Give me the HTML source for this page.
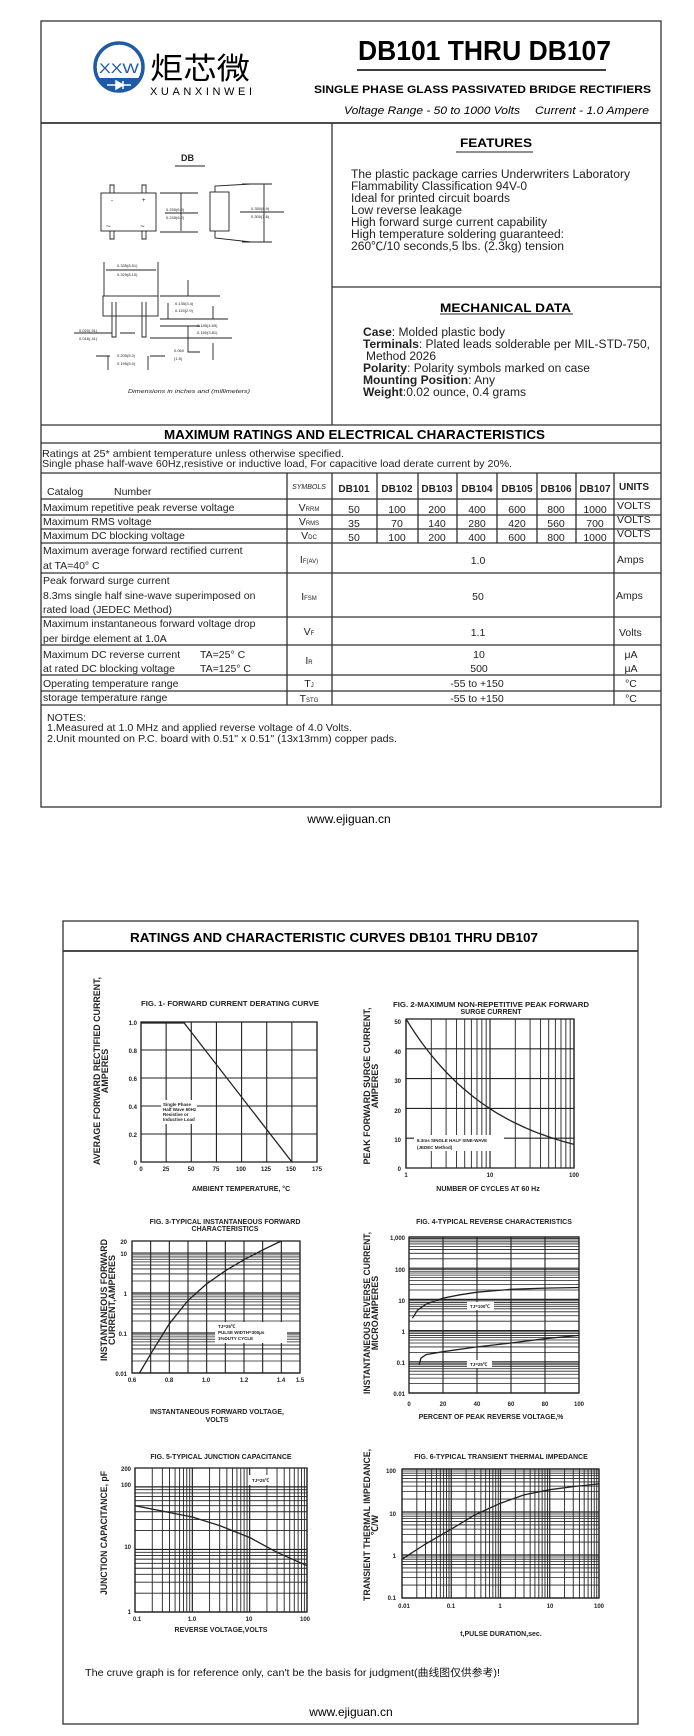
<!DOCTYPE html>
<html><head><meta charset="utf-8"><style>
html,body{margin:0;padding:0;background:#fff;}
svg{display:block;font-family:"Liberation Sans","Noto Sans CJK SC",sans-serif;}
.b{font-weight:bold;}
</style></head><body>
<svg id="s" width="694" height="1736" viewBox="0 0 694 1736" xmlns="http://www.w3.org/2000/svg">
<g fill="none" stroke="#333" stroke-width="1.3">
<rect x="41" y="21" width="620" height="786"/>
<line x1="41" y1="123" x2="661" y2="123" stroke-width="1.8"/>
<line x1="332" y1="123" x2="332" y2="425"/>
<line x1="332" y1="287" x2="661" y2="287"/>
<line x1="41" y1="425" x2="661" y2="425"/>
<line x1="41" y1="443" x2="661" y2="443"/>
<line x1="41" y1="473" x2="661" y2="473"/>
<line x1="41" y1="499" x2="661" y2="499"/>
<line x1="41" y1="515" x2="661" y2="515"/>
<line x1="41" y1="529" x2="661" y2="529"/>
<line x1="41" y1="543" x2="661" y2="543"/>
<line x1="41" y1="573" x2="661" y2="573"/>
<line x1="41" y1="617" x2="661" y2="617"/>
<line x1="41" y1="645" x2="661" y2="645"/>
<line x1="41" y1="675" x2="661" y2="675"/>
<line x1="41" y1="691" x2="661" y2="691"/>
<line x1="41" y1="705" x2="661" y2="705"/>
<line x1="287" y1="473" x2="287" y2="705"/>
<line x1="332" y1="473" x2="332" y2="705"/>
<line x1="614" y1="473" x2="614" y2="705"/>
<line x1="377" y1="473" x2="377" y2="543"/>
<line x1="418" y1="473" x2="418" y2="543"/>
<line x1="457" y1="473" x2="457" y2="543"/>
<line x1="497" y1="473" x2="497" y2="543"/>
<line x1="537" y1="473" x2="537" y2="543"/>
<line x1="576" y1="473" x2="576" y2="543"/>
<rect x="63" y="921" width="575" height="803"/>
<line x1="63" y1="951" x2="638" y2="951" stroke-width="1.8"/>
</g>
<!-- logo -->
<circle cx="119" cy="67" r="24" fill="none" stroke="#1d5aa8" stroke-width="3.5"/>
<path d="M97 78 H141 A24 24 0 0 1 97 78 Z" fill="#1d5aa8"/>
<text x="119" y="73" font-size="14" fill="#1d5aa8" text-anchor="middle" textLength="40" lengthAdjust="spacingAndGlyphs">XXW</text>
<path d="M107 85 H131 M116 81 L123 85 L116 89 Z M123 81 V89" stroke="#fff" stroke-width="1.5" fill="#fff"/>
<text x="150" y="79" font-size="30" font-family="Noto Sans CJK SC,sans-serif" textLength="100" lengthAdjust="spacingAndGlyphs">炬芯微</text>
<text x="150" y="95" font-size="11" textLength="102" lengthAdjust="spacing">XUANXINWEI</text>
<text x="358" y="60" font-size="28" class="b" textLength="253" lengthAdjust="spacingAndGlyphs">DB101 THRU DB107</text>
<line x1="357" y1="70" x2="606" y2="70" stroke="#222" stroke-width="1.8"/>
<text x="314" y="93" font-size="11" class="b" textLength="337" lengthAdjust="spacingAndGlyphs">SINGLE PHASE GLASS PASSIVATED BRIDGE RECTIFIERS</text>
<text x="344" y="114" font-size="11" font-style="italic" textLength="176" lengthAdjust="spacingAndGlyphs">Voltage Range - 50 to 1000 Volts</text>
<text x="535" y="114" font-size="11" font-style="italic" textLength="114" lengthAdjust="spacingAndGlyphs">Current -  1.0 Ampere</text>
<!-- package drawing -->
<g fill="none" stroke="#222" stroke-width="0.9">
<text x="181" y="161" font-size="9" class="b" fill="#222" stroke="none">DB</text>
<line x1="175" y1="166" x2="205" y2="166"/>
<rect x="101" y="193" width="55" height="38"/>
<path d="M110 193 V185 H114 V193 M142 193 V185 H146 V193 M110 231 V239 H114 V231 M142 231 V239 H146 V231"/>
<text x="111" y="202" font-size="6" fill="#222" stroke="none">-</text>
<text x="142" y="202" font-size="6" fill="#222" stroke="none">+</text>
<text x="106" y="229" font-size="8" fill="#222" stroke="none">~</text>
<text x="140" y="229" font-size="8" fill="#222" stroke="none">~</text>
<path d="M160 193 H198 M160 232 H198 M181 193 V231 M165 213 H198"/>
<text x="166" y="211" font-size="4" fill="#222" stroke="none">0.255(6.5)</text>
<text x="166" y="219" font-size="4" fill="#222" stroke="none">0.245(6.2)</text>
<rect x="210" y="192" width="19" height="39"/>
<path d="M215 192 V186 L251 184 M215 231 V238 L251 242 M242 184 H272 M242 242 H272 M264 184 V242 M240 212 H284"/>
<text x="251" y="210" font-size="4" fill="#222" stroke="none">0.350(8.9)</text>
<text x="251" y="218" font-size="4" fill="#222" stroke="none">0.300(7.6)</text>
<path d="M104 262 V296 M158 262 V296 M106 270 H156"/>
<text x="117" y="267" font-size="4" fill="#222" stroke="none">0.335(8.51)</text>
<text x="117" y="276" font-size="4" fill="#222" stroke="none">0.325(8.10)</text>
<rect x="103" y="296" width="55" height="20"/>
<path d="M112 302 V337 H116 V302 M142 302 V337 H146 V302"/>
<path d="M160 296 H220 M160 319 H228 M160 326 H200 M150 338 H232 M188 280 V296 M168 303 V319 M213 306 V319 M188 326 V352 H200 M213 343 V360 M74 333 H112 M120 333 H135 M96 356 H110 M108 356 V370 M148 356 V370 M150 356 H165"/>
<text x="175" y="305" font-size="4" fill="#222" stroke="none">0.135(3.4)</text>
<text x="175" y="312" font-size="4" fill="#222" stroke="none">0.115(2.9)</text>
<text x="197" y="327" font-size="4" fill="#222" stroke="none">0.185(4.69)</text>
<text x="197" y="334" font-size="4" fill="#222" stroke="none">0.150(3.81)</text>
<text x="79" y="332" font-size="4" fill="#222" stroke="none">0.020(.51)</text>
<text x="79" y="340" font-size="4" fill="#222" stroke="none">0.016(.41)</text>
<text x="174" y="352" font-size="4" fill="#222" stroke="none">0.060</text>
<text x="174" y="360" font-size="4" fill="#222" stroke="none">(1.5)</text>
<text x="117" y="357" font-size="4" fill="#222" stroke="none">0.205(5.2)</text>
<text x="117" y="365" font-size="4" fill="#222" stroke="none">0.195(5.0)</text>
<text x="128" y="393" font-size="5.5" font-style="italic" fill="#222" stroke="none" textLength="122" lengthAdjust="spacingAndGlyphs">Dimensions in inches and (millimeters)</text>
</g>
<!-- features -->
<text x="460" y="147" font-size="12" class="b" textLength="72" lengthAdjust="spacingAndGlyphs">FEATURES</text>
<line x1="456" y1="152" x2="533" y2="152" stroke="#222" stroke-width="1"/>
<g font-size="11.5" fill="#222">
<text x="351" y="178" textLength="279" lengthAdjust="spacingAndGlyphs">The plastic package carries Underwriters Laboratory</text>
<text x="351" y="190" textLength="176" lengthAdjust="spacingAndGlyphs">Flammability Classification 94V-0</text>
<text x="351" y="202" textLength="159" lengthAdjust="spacingAndGlyphs">Ideal for printed circuit boards</text>
<text x="351" y="214" textLength="111" lengthAdjust="spacingAndGlyphs">Low reverse leakage</text>
<text x="351" y="226" textLength="196" lengthAdjust="spacingAndGlyphs">High forward surge current capability</text>
<text x="351" y="238" textLength="213" lengthAdjust="spacingAndGlyphs">High temperature soldering guaranteed:</text>
<text x="351" y="250" textLength="213" lengthAdjust="spacingAndGlyphs">260℃/10 seconds,5 lbs. (2.3kg) tension</text>
</g>
<text x="440" y="312" font-size="12" class="b" textLength="131" lengthAdjust="spacingAndGlyphs">MECHANICAL DATA</text>
<line x1="440" y1="314" x2="573" y2="314" stroke="#222" stroke-width="1"/>
<g font-size="11.5" fill="#222">
<text x="363" y="336" textLength="142" lengthAdjust="spacingAndGlyphs"><tspan class="b">Case</tspan>: Molded plastic body</text>
<text x="363" y="348" textLength="287" lengthAdjust="spacingAndGlyphs"><tspan class="b">Terminals</tspan>: Plated leads solderable per MIL-STD-750,</text>
<text x="366" y="360" textLength="70" lengthAdjust="spacingAndGlyphs">Method 2026</text>
<text x="363" y="372" textLength="227" lengthAdjust="spacingAndGlyphs"><tspan class="b">Polarity</tspan>: Polarity symbols marked on case</text>
<text x="363" y="384" textLength="132" lengthAdjust="spacingAndGlyphs"><tspan class="b">Mounting Position</tspan>: Any</text>
<text x="363" y="396" textLength="163" lengthAdjust="spacingAndGlyphs"><tspan class="b">Weight</tspan>:0.02 ounce, 0.4 grams</text>
</g>
<!-- ratings -->
<text x="164" y="439" font-size="13" class="b" textLength="381" lengthAdjust="spacingAndGlyphs">MAXIMUM RATINGS AND ELECTRICAL CHARACTERISTICS</text>
<g font-size="10.5" fill="#222">
<text x="42" y="457" textLength="302" lengthAdjust="spacingAndGlyphs">Ratings at 25* ambient temperature unless otherwise specified.</text>
<text x="42" y="467" textLength="470" lengthAdjust="spacingAndGlyphs">Single phase half-wave 60Hz,resistive or inductive load, For capacitive load derate current by 20%.</text>
<text x="47" y="495">Catalog</text><text x="114" y="495">Number</text>
<text x="309" y="489" font-size="7" font-style="italic" text-anchor="middle">SYMBOLS</text>
<g class="b" text-anchor="middle" font-size="10">
<text x="354" y="492">DB101</text><text x="397" y="492">DB102</text><text x="437" y="492">DB103</text><text x="477" y="492">DB104</text><text x="517" y="492">DB105</text><text x="556" y="492">DB106</text><text x="595" y="492">DB107</text>
<text x="634" y="490">UNITS</text></g>
<text x="43" y="511">Maximum repetitive peak reverse voltage</text>
<text x="43" y="525">Maximum RMS voltage</text>
<text x="43" y="539">Maximum DC blocking voltage</text>
<text x="43" y="554">Maximum average forward rectified current</text>
<text x="43" y="569">at TA=40° C</text>
<text x="43" y="584">Peak forward surge current</text>
<text x="43" y="599">8.3ms single half sine-wave superimposed on</text>
<text x="43" y="613">rated load (JEDEC Method)</text>
<text x="43" y="627">Maximum instantaneous forward voltage drop</text>
<text x="43" y="642">per birdge element at 1.0A</text>
<text x="43" y="658">Maximum DC reverse current</text><text x="200" y="658">TA=25° C</text>
<text x="43" y="672">at rated DC blocking voltage</text><text x="200" y="672">TA=125° C</text>
<text x="43" y="687">Operating temperature range</text>
<text x="43" y="701">storage temperature range</text>
<g text-anchor="middle">
<text x="309" y="511">V<tspan font-size="6">RRM</tspan></text>
<text x="309" y="525">V<tspan font-size="6">RMS</tspan></text>
<text x="309" y="539">V<tspan font-size="6">DC</tspan></text>
<text x="309" y="563">I<tspan font-size="6">F(AV)</tspan></text>
<text x="309" y="600">I<tspan font-size="6">FSM</tspan></text>
<text x="309" y="635">V<tspan font-size="6">F</tspan></text>
<text x="309" y="664">I<tspan font-size="6">R</tspan></text>
<text x="309" y="687">T<tspan font-size="6">J</tspan></text>
<text x="309" y="702">T<tspan font-size="6">STG</tspan></text>
<text x="354" y="513">50</text><text x="397" y="513">100</text><text x="437" y="513">200</text><text x="477" y="513">400</text><text x="517" y="513">600</text><text x="556" y="513">800</text><text x="595" y="513">1000</text>
<text x="354" y="527">35</text><text x="397" y="527">70</text><text x="437" y="527">140</text><text x="477" y="527">280</text><text x="517" y="527">420</text><text x="556" y="527">560</text><text x="595" y="527">700</text>
<text x="354" y="541">50</text><text x="397" y="541">100</text><text x="437" y="541">200</text><text x="477" y="541">400</text><text x="517" y="541">600</text><text x="556" y="541">800</text><text x="595" y="541">1000</text>
<text x="478" y="564">1.0</text><text x="478" y="600">50</text><text x="478" y="636">1.1</text>
<text x="479" y="658">10</text><text x="479" y="672">500</text>
<text x="477" y="687">-55 to +150</text><text x="477" y="702">-55 to +150</text>
<text x="631" y="658">μA</text><text x="631" y="672">μA</text>
<text x="631" y="687">°C</text><text x="631" y="702">°C</text>
</g>
<text x="617" y="509">VOLTS</text><text x="617" y="523">VOLTS</text><text x="617" y="537">VOLTS</text>
<text x="617" y="563">Amps</text><text x="616" y="599">Amps</text><text x="619" y="636">Volts</text>
<text x="47" y="721">NOTES:</text>
<text x="47" y="731" textLength="305" lengthAdjust="spacingAndGlyphs">1.Measured at 1.0 MHz and applied reverse voltage of 4.0 Volts.</text>
<text x="47" y="742" textLength="350" lengthAdjust="spacingAndGlyphs">2.Unit mounted on P.C. board with 0.51"  x 0.51"  (13x13mm) copper pads.</text>
</g>
<text x="349" y="823" font-size="12" text-anchor="middle">www.ejiguan.cn</text>
<!-- charts section -->
<text x="130" y="942" font-size="13" class="b" textLength="408" lengthAdjust="spacingAndGlyphs">RATINGS AND CHARACTERISTIC CURVES DB101 THRU DB107</text>
<g id="charts" stroke="#222" fill="none"></g>
<g font-size="6" class="b" fill="#222">
<!-- fig1 -->
<text x="230" y="1006" text-anchor="middle" font-size="7" textLength="178" lengthAdjust="spacingAndGlyphs">FIG. 1- FORWARD CURRENT DERATING CURVE</text>
<text x="137" y="1025" text-anchor="end">1.0</text><text x="137" y="1053" text-anchor="end">0.8</text><text x="137" y="1081" text-anchor="end">0.6</text><text x="137" y="1109" text-anchor="end">0.4</text><text x="137" y="1137" text-anchor="end">0.2</text><text x="137" y="1165" text-anchor="end">0</text>
<g text-anchor="middle"><text x="141" y="1171">0</text><text x="166" y="1171">25</text><text x="191" y="1171">50</text><text x="216" y="1171">75</text><text x="241" y="1171">100</text><text x="266" y="1171">125</text><text x="291" y="1171">150</text><text x="317" y="1171">175</text></g>
<text x="241" y="1191" text-anchor="middle" font-size="7">AMBIENT TEMPERATURE, °C</text>
<text transform="translate(100,1071) rotate(-90)" text-anchor="middle" font-size="9" textLength="188" lengthAdjust="spacingAndGlyphs">AVERAGE  FORWARD RECTIFIED CURRENT,</text>
<text transform="translate(108,1071) rotate(-90)" text-anchor="middle" font-size="9">AMPERES</text>
<!-- fig2 -->
<text x="491" y="1007" text-anchor="middle" font-size="7" textLength="196" lengthAdjust="spacingAndGlyphs">FIG. 2-MAXIMUM NON-REPETITIVE PEAK FORWARD</text>
<text x="491" y="1014" text-anchor="middle" font-size="7">SURGE CURRENT</text>
<text x="401" y="1024" text-anchor="end">50</text><text x="401" y="1054" text-anchor="end">40</text><text x="401" y="1083" text-anchor="end">30</text><text x="401" y="1113" text-anchor="end">20</text><text x="401" y="1142" text-anchor="end">10</text><text x="401" y="1171" text-anchor="end">0</text>
<g text-anchor="middle"><text x="406" y="1177">1</text><text x="490" y="1177">10</text><text x="574" y="1177">100</text></g>
<text x="488" y="1191" text-anchor="middle" font-size="7">NUMBER OF CYCLES AT 60 Hz</text>
<text transform="translate(370,1086) rotate(-90)" text-anchor="middle" font-size="9" textLength="157" lengthAdjust="spacingAndGlyphs">PEAK   FORWARD SURGE CURRENT,</text>
<text transform="translate(378,1086) rotate(-90)" text-anchor="middle" font-size="9">AMPERES</text>
<!-- fig3 -->
<text x="225" y="1224" text-anchor="middle" font-size="7">FIG. 3-TYPICAL INSTANTANEOUS FORWARD</text>
<text x="225" y="1231" text-anchor="middle" font-size="7">CHARACTERISTICS</text>
<text x="127" y="1244" text-anchor="end">20</text><text x="127" y="1256" text-anchor="end">10</text><text x="127" y="1296" text-anchor="end">1</text><text x="127" y="1336" text-anchor="end">0.1</text><text x="127" y="1376" text-anchor="end">0.01</text>
<g text-anchor="middle"><text x="132" y="1382">0.6</text><text x="169" y="1382">0.8</text><text x="206" y="1382">1.0</text><text x="244" y="1382">1.2</text><text x="281" y="1382">1.4</text><text x="300" y="1382">1.5</text></g>
<text x="217" y="1414" text-anchor="middle" font-size="7">INSTANTANEOUS FORWARD VOLTAGE,</text>
<text x="217" y="1422" text-anchor="middle" font-size="7">VOLTS</text>
<text transform="translate(107,1300) rotate(-90)" text-anchor="middle" font-size="9" textLength="122" lengthAdjust="spacingAndGlyphs">INSTANTANEOUS FORWARD</text>
<text transform="translate(115,1300) rotate(-90)" text-anchor="middle" font-size="9">CURRENT,AMPERES</text>
<!-- fig4 -->
<text x="494" y="1224" text-anchor="middle" font-size="7">FIG. 4-TYPICAL REVERSE CHARACTERISTICS</text>
<text x="405" y="1240" text-anchor="end">1,000</text><text x="405" y="1272" text-anchor="end">100</text><text x="405" y="1303" text-anchor="end">10</text><text x="405" y="1334" text-anchor="end">1</text><text x="405" y="1365" text-anchor="end">0.1</text><text x="405" y="1396" text-anchor="end">0.01</text>
<g text-anchor="middle"><text x="409" y="1406">0</text><text x="443" y="1406">20</text><text x="477" y="1406">40</text><text x="511" y="1406">60</text><text x="545" y="1406">80</text><text x="579" y="1406">100</text></g>
<text x="491" y="1419" text-anchor="middle" font-size="7">PERCENT OF PEAK REVERSE VOLTAGE,%</text>
<text transform="translate(370,1313) rotate(-90)" text-anchor="middle" font-size="9" textLength="162" lengthAdjust="spacingAndGlyphs">INSTANTANEOUS REVERSE CURRENT,</text>
<text transform="translate(378,1313) rotate(-90)" text-anchor="middle" font-size="9">MICROAMPERES</text>
<!-- fig5 -->
<text x="221" y="1459" text-anchor="middle" font-size="7">FIG. 5-TYPICAL JUNCTION CAPACITANCE</text>
<text x="131" y="1471" text-anchor="end">200</text><text x="131" y="1487" text-anchor="end">100</text><text x="131" y="1549" text-anchor="end">10</text><text x="131" y="1614" text-anchor="end">1</text>
<g text-anchor="middle"><text x="137" y="1621">0.1</text><text x="192" y="1621">1.0</text><text x="249" y="1621">10</text><text x="305" y="1621">100</text></g>
<text x="221" y="1632" text-anchor="middle" font-size="7">REVERSE VOLTAGE,VOLTS</text>
<text transform="translate(107,1533) rotate(-90)" text-anchor="middle" font-size="9" textLength="124" lengthAdjust="spacingAndGlyphs">JUNCTION CAPACITANCE, pF</text>
<!-- fig6 -->
<text x="501" y="1459" text-anchor="middle" font-size="7">FIG. 6-TYPICAL TRANSIENT THERMAL IMPEDANCE</text>
<text x="396" y="1473" text-anchor="end">100</text><text x="396" y="1516" text-anchor="end">10</text><text x="396" y="1558" text-anchor="end">1</text><text x="396" y="1600" text-anchor="end">0.1</text>
<g text-anchor="middle"><text x="404" y="1608">0.01</text><text x="451" y="1608">0.1</text><text x="500" y="1608">1</text><text x="550" y="1608">10</text><text x="599" y="1608">100</text></g>
<text x="501" y="1636" text-anchor="middle" font-size="7">t,PULSE DURATION,sec.</text>
<text transform="translate(370,1525) rotate(-90)" text-anchor="middle" font-size="9" textLength="152" lengthAdjust="spacingAndGlyphs">TRANSIENT THERMAL IMPEDANCE,</text>
<text transform="translate(378,1525) rotate(-90)" text-anchor="middle" font-size="9">℃/W</text>
</g>
<!-- chart labels with white boxes -->
<g font-size="4.5" fill="#222" class="b">
<rect x="161" y="1100" width="36" height="24" fill="#fff"/>
<text x="163" y="1106">Single Phase</text><text x="163" y="1111">Half Wave 60Hz</text><text x="163" y="1116">Resistive or</text><text x="163" y="1121">Inductive Load</text>
<rect x="414" y="1135" width="90" height="16" fill="#fff"/>
<text x="417" y="1142">8.3ms SINGLE HALF SINE-WAVE</text><text x="417" y="1149">(JEDEC Method)</text>
<rect x="215" y="1322" width="72" height="21" fill="#fff"/>
<text x="218" y="1328">TJ=25℃</text><text x="218" y="1334">PULSE WIDTH=300μs</text><text x="218" y="1340">1%DUTY CYCLE</text>
<rect x="467" y="1302" width="27" height="8" fill="#fff"/><text x="470" y="1308">TJ=100℃</text>
<rect x="467" y="1360" width="25" height="8" fill="#fff"/><text x="470" y="1366">TJ=25℃</text>
<rect x="248" y="1475" width="28" height="10" fill="#fff"/><text x="252" y="1482">TJ=25℃</text>
</g>
<text x="85" y="1676" font-size="10.5" fill="#111" textLength="415" lengthAdjust="spacingAndGlyphs">The cruve graph is for reference only, can't be the basis for judgment(曲线图仅供参考)!</text>
<text x="351" y="1716" font-size="12" text-anchor="middle">www.ejiguan.cn</text>
</svg>
<script>
(function(){
var g=document.getElementById('charts'),NS='http://www.w3.org/2000/svg';
function L(x1,y1,x2,y2,w){var l=document.createElementNS(NS,'line');l.setAttribute('x1',x1);l.setAttribute('y1',y1);l.setAttribute('x2',x2);l.setAttribute('y2',y2);l.setAttribute('stroke-width',w||0.8);g.insertBefore(l,g.firstChild);}
function P(pts,w){var p=document.createElementNS(NS,'path');p.setAttribute('d','M'+pts.map(function(a){return a[0].toFixed(1)+' '+a[1].toFixed(1)}).join(' L'));p.setAttribute('stroke-width',w||1.3);g.appendChild(p);}
function logLines(a,b,d0,d1,fn){for(var d=d0;d<d1;d++)for(var k=1;k<10;k++){var v=k*Math.pow(10,d);fn(v,k==1);} fn(Math.pow(10,d1),true);}
function box(x0,y0,x1,y1){var r=document.createElementNS(NS,'rect');r.setAttribute('x',x0);r.setAttribute('y',y0);r.setAttribute('width',x1-x0);r.setAttribute('height',y1-y0);r.setAttribute('stroke-width',1.3);g.appendChild(r);}
var X0=141,X1=317,Y0=1162,Y1=1022,i;
for(i=0;i<=7;i++)L(X0+i*(X1-X0)/7,Y1,X0+i*(X1-X0)/7,Y0,1.1);
for(i=0;i<=5;i++)L(X0,Y0-i*(Y0-Y1)/5,X1,Y0-i*(Y0-Y1)/5,1.1);
box(X0,Y1,X1,Y0);
function f1x(t){return X0+t/175*(X1-X0)} function f1y(v){return Y0-v*(Y0-Y1)}
P([[f1x(0),f1y(1)+1],[f1x(43),f1y(1)+1],[f1x(150),f1y(0)]]);
X0=406;X1=574;Y0=1168;Y1=1019;
function lx(v,a,b,x0,x1){return x0+(Math.log10(v)-Math.log10(a))/(Math.log10(b)-Math.log10(a))*(x1-x0)}
logLines(1,100,0,2,function(v,m){L(lx(v,1,100,X0,X1),Y1,lx(v,1,100,X0,X1),Y0,m?1.2:0.9)});
for(i=0;i<=5;i++)L(X0,Y0-i*(Y0-Y1)/5,X1,Y0-i*(Y0-Y1)/5,1.1);
box(X0,Y1,X1,Y0);
var pts=[];for(var t=0;t<=2.001;t+=0.05){var n=Math.pow(10,t);var v=50*Math.pow(n,-0.4);pts.push([lx(n,1,100,X0,X1),Y0-v/50*(Y0-Y1)]);}P(pts);
X0=132;X1=300;Y0=1373;Y1=1241;
function ly(v,a,b,y0,y1){return y0-(Math.log10(v)-Math.log10(a))/(Math.log10(b)-Math.log10(a))*(y0-y1)}
for(i=0;i<=9;i++)L(X0+i*(X1-X0)/9,Y1,X0+i*(X1-X0)/9,Y0,1.1);
logLines(0.01,20,-2,1,function(v,m){L(X0,ly(v,0.01,20,Y0,Y1),X1,ly(v,0.01,20,Y0,Y1),m?1.2:0.8)});L(X0,ly(20,0.01,20,Y0,Y1),X1,ly(20,0.01,20,Y0,Y1));
box(X0,Y1,X1,Y0);
var d3=[[0.64,0.01],[0.7,0.03],[0.8,0.17],[0.9,0.65],[1.0,1.7],[1.1,3.6],[1.2,6.8],[1.3,12],[1.4,20]];
P(d3.map(function(a){return[X0+(a[0]-0.6)/0.9*(X1-X0),ly(a[1],0.01,20,Y0,Y1)]}));
X0=409;X1=579;Y0=1393;Y1=1237;
for(i=0;i<=5;i++)L(X0+i*(X1-X0)/5,Y1,X0+i*(X1-X0)/5,Y0,1.1);
logLines(0.01,1000,-2,3,function(v,m){L(X0,ly(v,0.01,1000,Y0,Y1),X1,ly(v,0.01,1000,Y0,Y1),m?1.2:0.8)});
box(X0,Y1,X1,Y0);
var a4=[[2,2.5],[5,4.5],[10,7],[20,11],[30,14],[40,17],[60,21],[80,23],[100,24]];
var b4=[[6,0.08],[7,0.13],[10,0.17],[20,0.21],[40,0.3],[60,0.4],[80,0.55],[100,0.7]];
P(a4.map(function(a){return[X0+a[0]/100*(X1-X0),ly(a[1],0.01,1000,Y0,Y1)]}));
P(b4.map(function(a){return[X0+a[0]/100*(X1-X0),ly(a[1],0.01,1000,Y0,Y1)]}));
X0=135;X1=307;Y0=1612;Y1=1468;
logLines(0.1,100,-1,2,function(v,m){L(lx(v,0.1,100,X0,X1),Y1,lx(v,0.1,100,X0,X1),Y0,m?1.2:0.9)});
logLines(1,200,0,2,function(v,m){if(v<=200)L(X0,ly(v,1,200,Y0,Y1),X1,ly(v,1,200,Y0,Y1),m?1.2:0.9)});L(X0,Y1,X1,Y1);
box(X0,Y1,X1,Y0);
var a5=[[0.1,50],[0.3,41],[1,33],[3,24],[10,15.5],[30,9],[100,5.5]];
P(a5.map(function(a){return[lx(a[0],0.1,100,X0,X1),ly(a[1],1,200,Y0,Y1)]}));
X0=402;X1=599;Y0=1598;Y1=1469;
logLines(0.01,100,-2,2,function(v,m){L(lx(v,0.01,100,X0,X1),Y1,lx(v,0.01,100,X0,X1),Y0,m?1.2:0.9)});
logLines(0.1,100,-1,2,function(v,m){L(X0,ly(v,0.1,100,Y0,Y1),X1,ly(v,0.1,100,Y0,Y1),m?1.2:0.8)});
box(X0,Y1,X1,Y0);
var a6=[[0.01,0.8],[0.03,1.8],[0.1,4],[0.3,8.5],[1,16],[3,25],[10,33],[30,39],[100,45]];
P(a6.map(function(a){return[lx(a[0],0.01,100,X0,X1),ly(a[1],0.1,100,Y0,Y1)]}));
})();
</script>
</body></html>
